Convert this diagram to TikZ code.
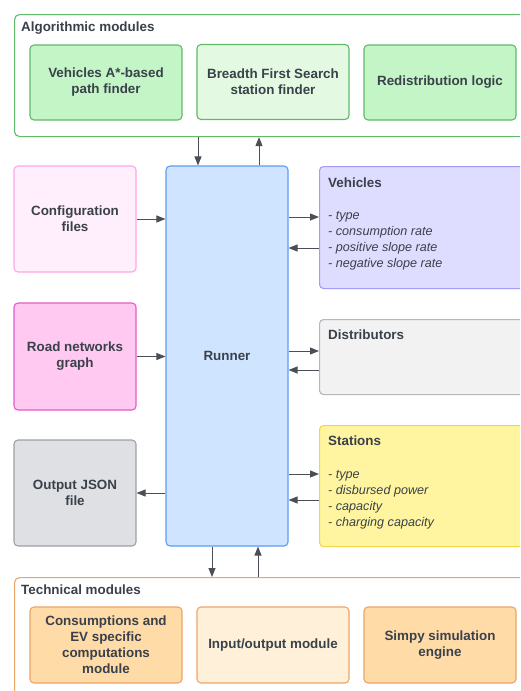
\documentclass[tikz,border=0pt]{standalone}
\usepackage{fontspec}
\setmainfont{Liberation Sans}
\usetikzlibrary{arrows.meta}
\definecolor{txt}{HTML}{3A414A}
\definecolor{arrc}{HTML}{4A4F57}
\definecolor{grnF}{HTML}{C3F5C6}
\definecolor{grnL}{HTML}{E3F9E2}
\definecolor{grnD}{HTML}{62B96A}
\definecolor{pinkLF}{HTML}{FFEEFB}
\definecolor{pinkLD}{HTML}{FFA6E6}
\definecolor{pinkF}{HTML}{FFC9F1}
\definecolor{pinkD}{HTML}{E65BC9}
\definecolor{grayF}{HTML}{DEE0E4}
\definecolor{grayD}{HTML}{9DA2A8}
\definecolor{bluF}{HTML}{CFE4FF}
\definecolor{bluD}{HTML}{5B9DF5}
\definecolor{purF}{HTML}{DEDCFF}
\definecolor{purD}{HTML}{A29CF7}
\definecolor{dstF}{HTML}{F2F2F3}
\definecolor{dstD}{HTML}{B5B7BA}
\definecolor{yelF}{HTML}{FFF5A0}
\definecolor{yelD}{HTML}{F2D54A}
\definecolor{orF}{HTML}{FFDBA8}
\definecolor{orL}{HTML}{FFF1D9}
\definecolor{orD}{HTML}{EDA567}
\tikzset{
  box/.style={draw, rounded corners=4pt, line width=1.1pt, align=center, text=txt,
    font=\bfseries\fontsize{13.4}{16}\selectfont, inner sep=0pt},
  grp/.style={draw, rounded corners=5pt, line width=1.1pt},
  ttl/.style={anchor=west, inner sep=0pt, text=txt, font=\bfseries\fontsize{13.4}{16}\selectfont},
  lst/.style={anchor=north west, inner sep=0pt, align=left, text=txt, font=\itshape\fontsize{12.6}{16}\selectfont},
  arr/.style={draw=arrc, line width=1pt, -{Triangle[length=9pt,width=7pt]}, color=arrc}
}
\begin{document}
\begin{tikzpicture}[x=1pt,y=-1pt]
\clip (0,0) rectangle (520,691);
\fill[white] (0,0) rectangle (520,691);
% groups
\node[grp, draw=grnD, fill=white, minimum width=514pt, minimum height=122pt, anchor=north west] (algo) at (14,14) {};
\node[ttl] (algot) at (21,28.5) {Algorithmic modules};
\node[grp, draw=orD, fill=white, minimum width=514pt, minimum height=130pt, anchor=north west] (tech) at (14,577) {};
\node[ttl] (techt) at (21,590) {Technical modules};
% algorithmic boxes
\node[box, draw=grnD, fill=grnF, minimum width=152pt, minimum height=75pt] (a1) at (106,82.5) {Vehicles A*-based\\path finder};
\node[box, draw=grnD, fill=grnL, minimum width=152pt, minimum height=75pt] (a2) at (273,82) {Breadth First Search\\station finder};
\node[box, draw=grnD, fill=grnF, minimum width=152pt, minimum height=75pt] (a3) at (440,82.5) {Redistribution logic};
% technical boxes
\node[box, draw=orD, fill=orF, minimum width=152pt, minimum height=76pt] (t1) at (106,645) {Consumptions and\\EV specific\\computations\\module};
\node[box, draw=orD, fill=orL, minimum width=152pt, minimum height=76pt] (t2) at (273,645) {Input/output module};
\node[box, draw=orD, fill=orF, minimum width=152pt, minimum height=76pt] (t3) at (440,645) {Simpy simulation\\engine};
% runner
\node[box, draw=bluD, fill=bluF, minimum width=122pt, minimum height=380pt] (runner) at (227,356) {Runner};
% left boxes
\node[box, draw=pinkLD, fill=pinkLF, minimum width=122pt, minimum height=106pt] (config) at (75,219) {Configuration\\files};
\node[box, draw=pinkD, fill=pinkF, minimum width=122pt, minimum height=107pt] (road) at (75,356.5) {Road networks\\graph};
\node[box, draw=grayD, fill=grayF, minimum width=122pt, minimum height=106pt] (output) at (75,493) {Output JSON\\file};
% right boxes
\node[box, draw=purD, fill=purF, minimum width=210pt, minimum height=122pt, anchor=north west] (veh) at (319,166) {};
\node[ttl] (veht) at (328,183) {Vehicles};
\node[lst] (vehl) at (328,211) {- type\\- consumption rate\\- positive slope rate\\- negative slope rate};
\node[box, draw=dstD, fill=dstF, minimum width=210pt, minimum height=75pt, anchor=north west] (dist) at (319,319) {};
\node[ttl] (distt) at (328,335) {Distributors};
\node[box, draw=yelD, fill=yelF, minimum width=210pt, minimum height=121pt, anchor=north west] (stat) at (319,425) {};
\node[ttl] (statt) at (328,441) {Stations};
\node[lst] (statl) at (328,470) {- type\\- disbursed power\\- capacity\\- charging capacity};
% connectors
\draw[arr] (198,0 |- algo.south) -- (198,0 |- runner.north);
\draw[arr] (259,0 |- runner.north) -- (259,0 |- algo.south);
\draw[arr] (config.east) -- (runner.west |- config.east);
\draw[arr] (road.east) -- (runner.west |- road.east);
\draw[arr] (runner.west |- output.east) -- (output.east);
\draw[arr] (runner.east |- 0,217) -- (veh.west |- 0,217);
\draw[arr] (veh.west |- 0,248) -- (runner.east |- 0,248);
\draw[arr] (runner.east |- 0,351) -- (dist.west |- 0,351);
\draw[arr] (dist.west |- 0,370) -- (runner.east |- 0,370);
\draw[arr] (runner.east |- 0,474) -- (stat.west |- 0,474);
\draw[arr] (stat.west |- 0,500) -- (runner.east |- 0,500);
\draw[arr] (212,0 |- runner.south) -- (212,0 |- tech.north);
\draw[arr] (258,0 |- tech.north) -- (258,0 |- runner.south);
\end{tikzpicture}
\end{document}
